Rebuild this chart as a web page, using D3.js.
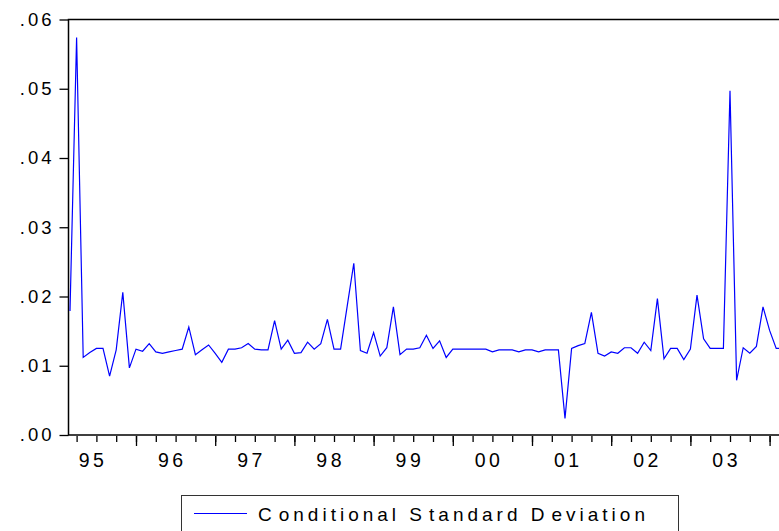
<!DOCTYPE html>
<html>
<head>
<meta charset="utf-8">
<script src="https://cdn.jsdelivr.net/npm/d3@7"></script>
<style>
  html, body { margin: 0; padding: 0; background: #fff; }
  svg { display: block; font-family: "Liberation Sans", Arial, sans-serif; }
</style>
</head>
<body>
<svg id="chart" width="779" height="531"></svg>
<script>
// Monthly conditional standard deviation (observation index 0..108)
const seriesName = "Conditional Standard Deviation";
const condSD = [
  0.0179, 0.0574, 0.0112, 0.0119, 0.0125, 0.0125, 0.0085, 0.0123, 0.0206, 0.0097,
  0.0124, 0.0121, 0.0132, 0.0120, 0.0118, 0.0120, 0.0122, 0.0124, 0.0156, 0.0116,
  0.0123, 0.0130, 0.0118, 0.0105, 0.0124, 0.0124, 0.0126, 0.0132, 0.0124, 0.0123,
  0.0123, 0.0165, 0.0124, 0.0137, 0.0118, 0.0119, 0.0134, 0.0124, 0.0132, 0.0167,
  0.0124, 0.0124, 0.0186, 0.0248, 0.0122, 0.0118, 0.0148, 0.0114, 0.0126, 0.0185,
  0.0116, 0.0124, 0.0124, 0.0126, 0.0144, 0.0125, 0.0136, 0.0112, 0.0124, 0.0124,
  0.0124, 0.0124, 0.0124, 0.0124, 0.0120, 0.0123, 0.0123, 0.0123, 0.0120, 0.0123,
  0.0123, 0.0120, 0.0123, 0.0123, 0.0123, 0.0024, 0.0125, 0.0129, 0.0132, 0.0177,
  0.0118, 0.0114, 0.0120, 0.0118, 0.0126, 0.0126, 0.0118, 0.0134, 0.0122, 0.0197,
  0.0110, 0.0125, 0.0125, 0.0109, 0.0124, 0.0202, 0.0139, 0.0125, 0.0125, 0.0125,
  0.0497, 0.0079, 0.0126, 0.0118, 0.0128, 0.0185, 0.0151, 0.0125, 0.0125
];
const yearLabels = ["95", "96", "97", "98", "99", "00", "01", "02", "03"];
const yTickValues = [0, 0.01, 0.02, 0.03, 0.04, 0.05, 0.06];
const yTickLabels = [".00", ".01", ".02", ".03", ".04", ".05", ".06"];

(function () {
const svg = d3.select("#chart");
const padL = 68.5, padT = 19.5, baseY = 435, rightEdge = 800;

const x = d3.scaleLinear().domain([0, 107]).range([70, 776.2]);
const y = d3.scaleLinear().domain([0, 0.06]).range([baseY, padT]);

// frame (top + left + bottom; right side lies beyond the visible window)
svg.append("path")
  .attr("d", `M${rightEdge},${padT}H${padL}V${baseY}H${rightEdge}`)
  .attr("fill", "none").attr("stroke", "#000").attr("stroke-width", 1.5);

// Y axis
const yAxis = d3.axisLeft(y).tickValues(yTickValues)
  .tickFormat((d, i) => yTickLabels[i]).tickSize(9).tickPadding(8);
const gy = svg.append("g").attr("transform", `translate(${padL},0)`).call(yAxis);
gy.select(".domain").remove();
gy.selectAll(".tick line").attr("stroke", "#000").attr("stroke-width", 1.3);
gy.selectAll(".tick text").attr("font-size", 18.5).attr("fill", "#000")
  .attr("font-family", "Liberation Sans, Arial, sans-serif")
  .attr("letter-spacing", 3).attr("dx", 3);

// X axis: minor ticks each quarter, long ticks each year
const n = condSD.length;
const minorIdx = d3.range(1, n, 3);
const majorIdx = d3.range(10, n, 12);
const gxMinor = svg.append("g").attr("transform", `translate(0,${baseY + 1})`)
  .call(d3.axisBottom(x).tickValues(minorIdx).tickSize(6).tickFormat(""));
gxMinor.select(".domain").remove();
const gxMajor = svg.append("g").attr("transform", `translate(0,${baseY + 1})`)
  .call(d3.axisBottom(x).tickValues(majorIdx).tickSize(10).tickFormat(""));
gxMajor.select(".domain").remove();
svg.selectAll(".tick line").attr("stroke", "#000").attr("stroke-width", 1.3);

const firstLabelIdx = 3.2;
svg.append("g").selectAll("text").data(yearLabels).join("text")
  .attr("x", (d, i) => x(firstLabelIdx + 12 * i) + 2)
  .attr("y", 466.5)
  .attr("text-anchor", "middle")
  .attr("font-size", 19.5)
  .attr("letter-spacing", 3.5)
  .attr("fill", "#000")
  .text(d => d);

// series line
svg.append("defs").append("clipPath").attr("id", "plotclip")
  .append("rect").attr("x", padL).attr("y", padT).attr("width", 779 - padL).attr("height", baseY - padT);
const line = d3.line().x((d, i) => x(i)).y(d => y(d));
svg.append("path").datum(condSD)
  .attr("clip-path", "url(#plotclip)")
  .attr("d", line)
  .attr("fill", "none").attr("stroke", "#0000ff").attr("stroke-width", 1.2)
  .attr("stroke-linejoin", "miter");

// legend
const lg = svg.append("g");
lg.append("rect").attr("x", 181.5).attr("y", 495.5).attr("width", 497).attr("height", 50)
  .attr("fill", "none").attr("stroke", "#333").attr("stroke-width", 1);
lg.append("line").attr("x1", 194).attr("x2", 247).attr("y1", 513.5).attr("y2", 513.5)
  .attr("stroke", "#0000ff").attr("stroke-width", 1.2);
const lt = lg.append("text").attr("x", 258).attr("y", 521)
  .attr("font-size", 19).attr("letter-spacing", 4).attr("fill", "#000");
seriesName.split(" ").forEach((w, i) => {
  lt.append("tspan").attr("dx", i === 0 ? 0 : 0).text((i === 0 ? "" : " ") + w[0]);
  lt.append("tspan").attr("dx", 3).text(w.slice(1));
});
})();
</script>
</body>
</html>
